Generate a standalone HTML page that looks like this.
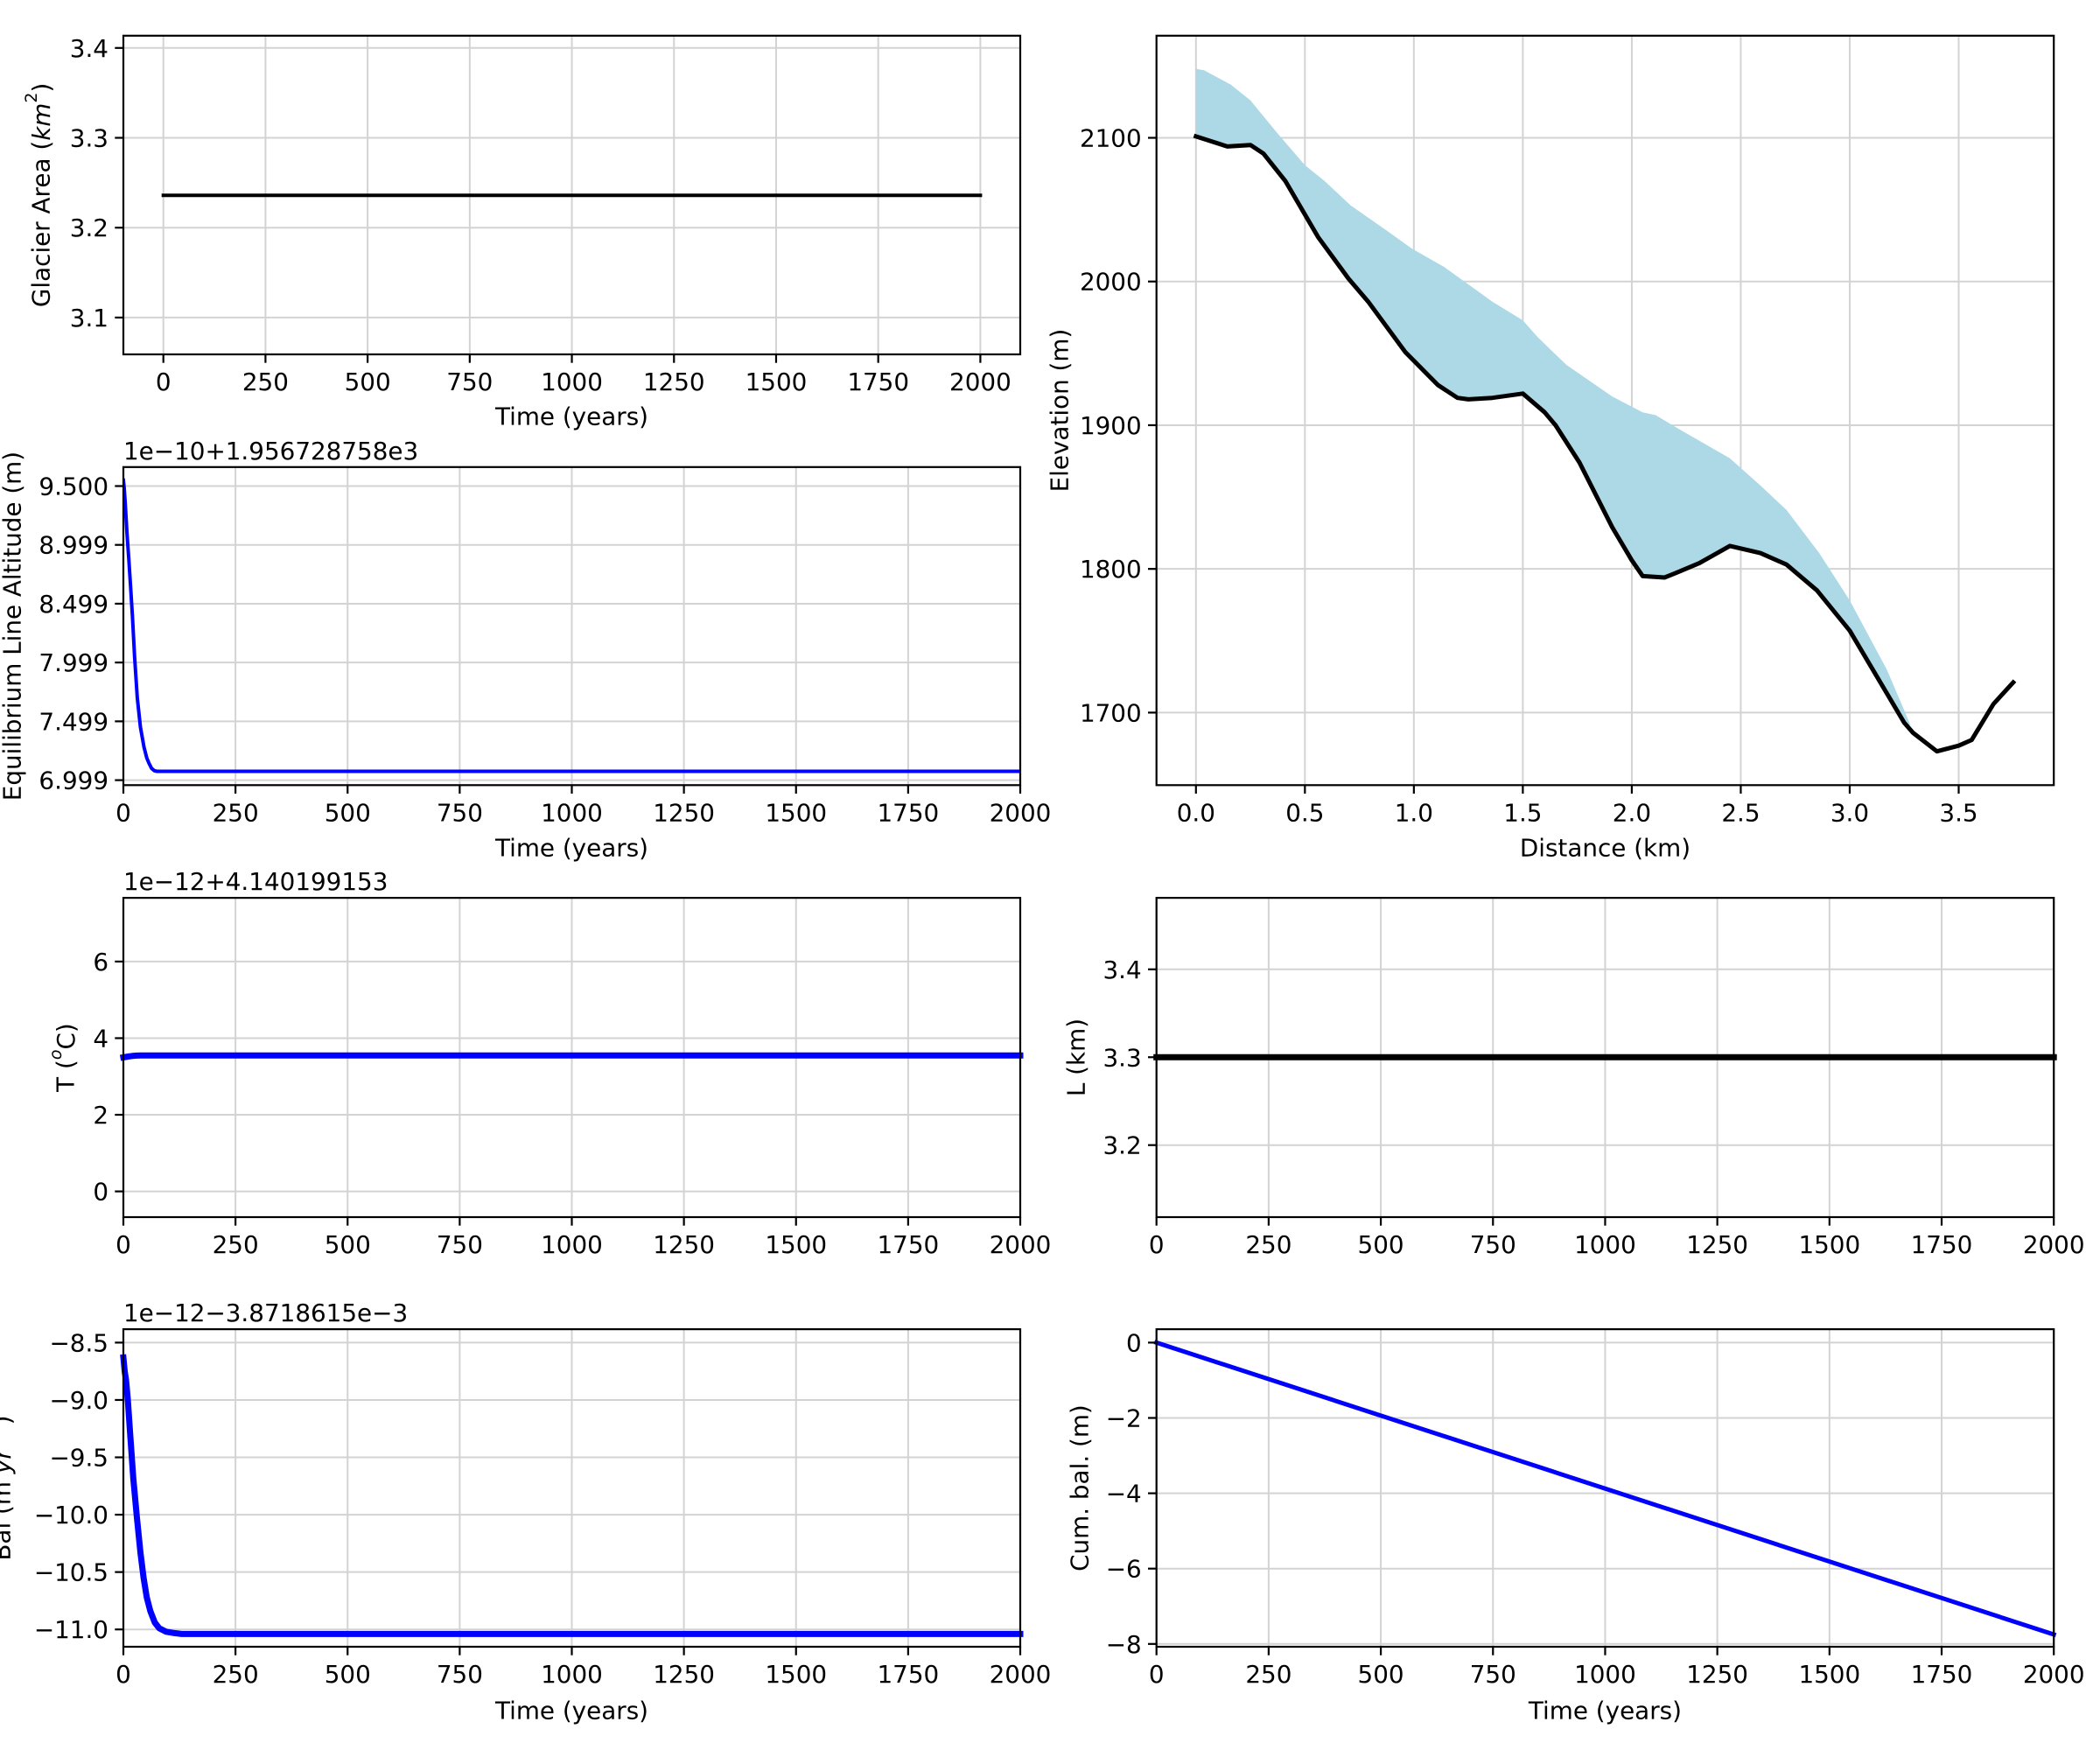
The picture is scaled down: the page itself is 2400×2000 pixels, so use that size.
<!DOCTYPE html>
<html><head><meta charset="utf-8">
<style>
html,body{margin:0;padding:0;background:#fff;}
svg{display:block;font-family:"DejaVu Sans","Liberation Sans",sans-serif;}
text{fill:#000;font-size:27.8px;}
</style></head>
<body>
<svg id="fig" width="2400" height="2000" viewBox="0 0 2400 2000" xmlns="http://www.w3.org/2000/svg">
<rect x="0" y="0" width="2400" height="2000" fill="#fff"/>
</svg>
<script>
// ---- data ----
const timeTicks = [0,250,500,750,1000,1250,1500,1750,2000];
const areaTime = [0, 2000];
const areaValues = [3.236, 3.236];
const areaTicks = [3.1,3.2,3.3,3.4];

const elaTime = [0,2,4,8,12,16,20,25,31,38,46,52,57,63,69,75,80,2000];
const elaValues = [9.55,9.48,9.36,9.1,8.88,8.65,8.4,8.05,7.70,7.45,7.28,7.19,7.145,7.10,7.08,7.075,7.075,7.075];
const elaTicks = [9.5,9.0,8.5,8.0,7.5,7.0];
const elaTickLabels = ["9.500","8.999","8.499","7.999","7.499","6.999"];

const tTime = [0,10,20,30,40,2000];
const tValues = [3.5,3.52,3.535,3.545,3.55,3.55];
const tTicks = [0,2,4,6];

const balTime = [0,3,6,10,15,22,30,38,45,52,60,70,80,95,110,130,150,2000];
const balValues = [-8.63,-8.75,-8.83,-9.0,-9.29,-9.68,-10.02,-10.33,-10.55,-10.72,-10.84,-10.94,-10.99,-11.02,-11.03,-11.04,-11.04,-11.04];
const balTicks = [-11.0,-10.5,-10.0,-9.5,-9.0,-8.5];

const lTime = [0,2000];
const lValues = [3.3,3.3];
const lTicks = [3.2,3.3,3.4];

const cumTime = [0,2000];
const cumValues = [0,-7.75];
const cumTicks = [-8,-6,-4,-2,0];

const distTicks = [0,0.5,1,1.5,2,2.5,3,3.5];
const elevTicks = [1700,1800,1900,2000,2100];
const bedX = [0,0.144,0.25,0.31,0.41,0.56,0.70,0.79,0.96,1.11,1.2,1.25,1.36,1.5,1.6,1.65,1.76,1.91,2.0,2.05,2.15,2.2,2.31,2.45,2.59,2.71,2.85,3.0,3.25,3.29,3.40,3.5,3.56,3.66,3.75];
const bedElev = [2101,2094,2095,2089,2070,2031,2002,1986,1951,1928,1919,1918,1919,1922,1909,1900,1874,1829,1806,1795,1794,1797,1804,1816,1811,1803,1785,1757,1693,1686,1673,1677,1681,1706,1721];
const surfX = [0,0.037,0.16,0.25,0.375,0.5,0.59,0.71,0.87,0.99,1.14,1.25,1.36,1.5,1.57,1.7,1.91,2.05,2.11,2.22,2.45,2.59,2.71,2.86,3.0,3.17,3.28];
const surfElev = [2148,2147,2137,2126,2103,2081,2070,2053,2036,2023,2010,1998,1986,1973,1961,1942,1920,1909,1907,1897,1877,1858,1841,1811,1778,1730,1691];

// ---- helpers ----
const NS = "http://www.w3.org/2000/svg";
const svg = document.getElementById('fig');
function el(tag, attrs, parent){
  const e = document.createElementNS(NS, tag);
  for (const k in attrs) e.setAttribute(k, attrs[k]);
  (parent||svg).appendChild(e);
  return e;
}
function lin(d0,d1,p0,p1){ return v => p0 + (v-d0)*(p1-p0)/(d1-d0); }
function fmt(v){ return (v<0?'\u2212':'') + String(Math.abs(v)); }

function axesPanel(o){
  const g = el('g', {});
  
  
  const {l,t,r,b} = o.box;
  o.xticks.forEach(v=>{ const x=o.X(v);
    const gl = el('line',{x1:x,x2:x,y1:t,y2:b,stroke:'#d3d3d3','stroke-width':2},g);
    
    
  });
  o.yticks.forEach(v=>{ const y=o.Y(v);
    const gl = el('line',{x1:l,x2:r,y1:y,y2:y,stroke:'#d3d3d3','stroke-width':2},g);
    
    
  });
  o.draw(g);
  const fr = el('rect',{x:l,y:t,width:r-l,height:b-t,fill:'none',stroke:'#000','stroke-width':2.2},g);
  
  
  o.xticks.forEach((v,i)=>{ const x=o.X(v);
    el('line',{x1:x,x2:x,y1:b,y2:b+9.7,stroke:'#000','stroke-width':2.2},g);
    const tx = el('text',{x:x,y:b+41,'text-anchor':'middle'},g);
    tx.textContent = o.xlabels ? o.xlabels[i] : fmt(v);
    
    
  });
  o.yticks.forEach((v,i)=>{ const y=o.Y(v);
    el('line',{x1:l,x2:l-9.7,y1:y,y2:y,stroke:'#000','stroke-width':2.2},g);
    const tx = el('text',{x:l-17,y:y+10,'text-anchor':'end'},g);
    tx.textContent = o.ylabels ? o.ylabels[i] : fmt(v);
    
    
  });
  if (o.xtitle){
    const tx = el('text',{x:(l+r)/2,y:o.xtitleY,'text-anchor':'middle','dominant-baseline':'central'},g);
    tx.textContent = o.xtitle;
    
    
  }
  if (o.ytitle){
    const tx = el('text',{x:o.ytitleX,y:(t+b)/2,'text-anchor':'middle','dominant-baseline':'central',transform:`rotate(-90 ${o.ytitleX} ${(t+b)/2})`},g);
    if (o.ytitleHTML) tx.innerHTML = o.ytitleHTML; else tx.textContent = o.ytitle;
    
    
  }
  if (o.offset){
    const tx = el('text',{x:l,y:t-9},g);
    tx.textContent = o.offset;
    
    
  }
}
function polyline(g, xs, ys, X, Y, color, w, name){
  const pts = xs.map((x,i)=>X(x).toFixed(1)+','+Y(ys[i]).toFixed(1)).join(' ');
  const p = el('polyline',{points:pts,fill:'none',stroke:color,'stroke-width':w,'stroke-linejoin':'round','stroke-linecap':'square'},g);
  
  
  return p;
}

// ---- panels ----
(function(){
  const box={l:141,t:40.8,r:1166,b:405};
  const X=lin(0,2000,186.7,1120.4), Y=lin(3.1,3.4,362.9,54.8);
  axesPanel({name:'glacier-area-panel',box,X,Y,xticks:timeTicks,yticks:areaTicks,
    xtitle:'Time (years)',xtitleY:476,ytitle:'Glacier Area (km2)',ytitleX:47,
    ytitleHTML:'Glacier Area (<tspan font-style="italic">km</tspan><tspan font-size="19" dy="-11">2</tspan><tspan dy="11">)</tspan>',
    draw:g=>polyline(g,areaTime,areaValues,X,Y,'#000',4,'area-line')});
})();
(function(){
  const box={l:141,t:533.8,r:1166,b:897.3};
  const X=lin(0,2000,141,1166), Y=lin(7.0,9.5,891.6,555.5);
  axesPanel({name:'ela-panel',box,X,Y,xticks:timeTicks,yticks:elaTicks,ylabels:elaTickLabels,
    xtitle:'Time (years)',xtitleY:969,ytitle:'Equilibrium Line Altitude (m)',ytitleX:14,
    offset:'1e\u221210+1.956728758e3',
    draw:g=>{const cp=el('clipPath',{id:'c2'},g);el('rect',{x:box.l,y:box.t,width:box.r-box.l,height:box.b-box.t},cp);
      const p=polyline(g,elaTime,elaValues,X,Y,'#0000ff',4,'ela-line');p.setAttribute('clip-path','url(#c2)');}});
})();
(function(){
  const box={l:141,t:1026.1,r:1166,b:1391};
  const X=lin(0,2000,141,1166), Y=lin(0,6,1361.6,1098.9);
  axesPanel({name:'temperature-panel',box,X,Y,xticks:timeTicks,yticks:tTicks,
    ytitle:'T (oC)',ytitleX:75,ytitleHTML:'T (<tspan font-size="19" dy="-11" font-style="italic">o</tspan><tspan dy="11">C)</tspan>',
    offset:'1e\u221212+4.140199153',
    draw:g=>polyline(g,tTime,tValues,X,Y,'#0000ff',7,'temperature-line')});
})();
(function(){
  const box={l:141,t:1519.1,r:1166,b:1882};
  const X=lin(0,2000,141,1166), Y=lin(-11,-8.5,1862.2,1534.4);
  axesPanel({name:'balance-panel',box,X,Y,xticks:timeTicks,yticks:balTicks,
    ylabels:balTicks.map(v=>fmt(v.toFixed(1)*1).replace(/(\d+)$/,'$1'+(Number.isInteger(v)?'.0':''))),
    xtitle:'Time (years)',xtitleY:1955,ytitle:'Bal (m yr-1)',ytitleX:2,
    ytitleHTML:'Bal (m <tspan font-style="italic">yr</tspan><tspan font-size="19" dy="-11">\u22121</tspan><tspan dy="11">)</tspan>',
    offset:'1e\u221212\u22123.8718615e\u22123',
    draw:g=>polyline(g,balTime,balValues,X,Y,'#0000ff',7,'balance-line')});
})();
(function(){
  const box={l:1321.7,t:40.8,r:2347.2,b:897.3};
  const X=lin(0,3.5,1366.8,2238.5), Y=lin(1700,2100,814.4,157.5);
  axesPanel({name:'elevation-profile-panel',box,X,Y,xticks:distTicks,yticks:elevTicks,
    xlabels:distTicks.map(v=>v.toFixed(1)),
    xtitle:'Distance (km)',xtitleY:969,ytitle:'Elevation (m)',ytitleX:1211,
    draw:g=>{
      const top = surfX.map((x,i)=>X(x).toFixed(1)+','+Y(surfElev[i]).toFixed(1));
      const xmax = surfX[surfX.length-1];
      const bedIdx = bedX.map((x,i)=>i).filter(i=>bedX[i]<=xmax).reverse();
      const bot = bedIdx.map(i=>X(bedX[i]).toFixed(1)+','+Y(bedElev[i]).toFixed(1));
      const f = el('polygon',{points:top.concat(bot).join(' '),fill:'#add8e6',stroke:'none'},g);
      
      
      polyline(g,bedX,bedElev,X,Y,'#000',5,'bed-line');
    }});
})();
(function(){
  const box={l:1321.7,t:1026.1,r:2347.2,b:1391};
  const X=lin(0,2000,1321.7,2347.2), Y=lin(3.2,3.4,1308.7,1107.8);
  axesPanel({name:'length-panel',box,X,Y,xticks:timeTicks,yticks:lTicks,
    ylabels:lTicks.map(v=>v.toFixed(1)),
    ytitle:'L (km)',ytitleX:1230,
    draw:g=>polyline(g,lTime,lValues,X,Y,'#000',7,'length-line')});
})();
(function(){
  const box={l:1321.7,t:1519.1,r:2347.2,b:1882};
  const X=lin(0,2000,1321.7,2347.2), Y=lin(-8,0,1878.8,1534.4);
  axesPanel({name:'cumulative-balance-panel',box,X,Y,xticks:timeTicks,yticks:cumTicks,
    xtitle:'Time (years)',xtitleY:1955,ytitle:'Cum. bal. (m)',ytitleX:1234,
    draw:g=>polyline(g,cumTime,cumValues,X,Y,'#0000ff',5,'cumulative-balance-line')});
})();
</script>
</body></html>
